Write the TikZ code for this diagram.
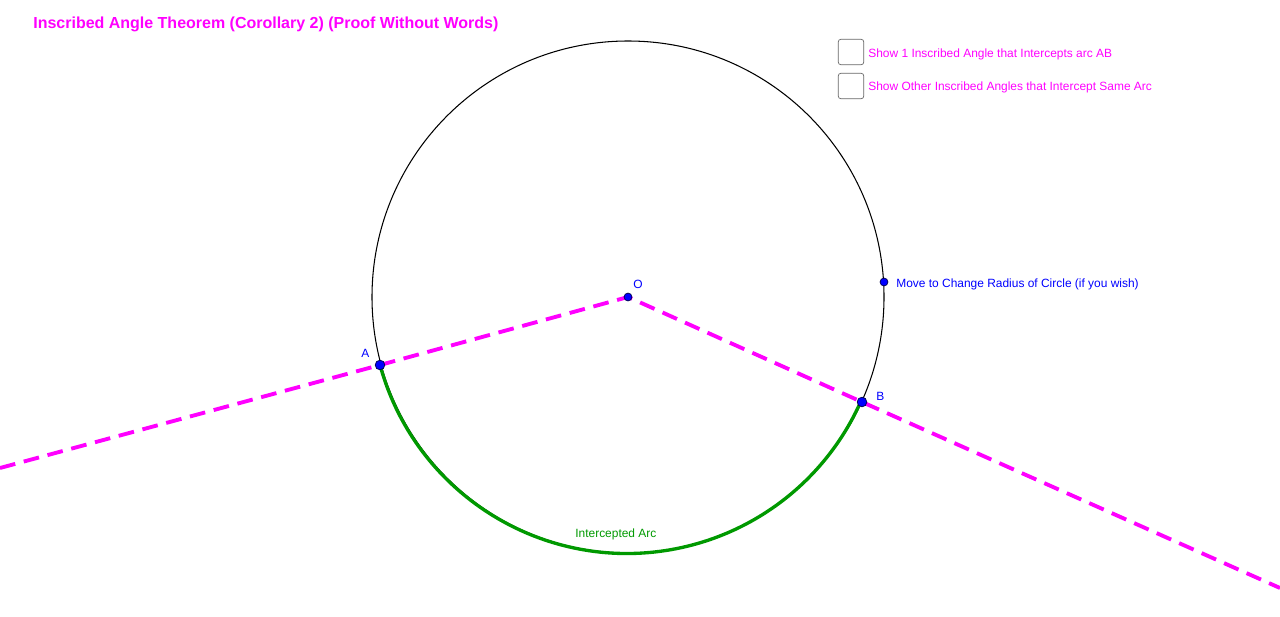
\documentclass[tikz,border=0pt]{standalone}
\usepackage{fontspec}
\setmainfont{Liberation Sans}
\definecolor{mag}{RGB}{255,0,255}
\definecolor{grn}{RGB}{0,153,0}
\definecolor{pblue}{RGB}{0,0,255}
\tikzset{pt/.style={circle,fill=pblue,draw=black!70!blue,inner sep=0pt,minimum size=#1},
lbl/.style={font=\fontsize{6.8}{8}\selectfont,inner sep=0pt,anchor=west},
dl/.style={mag,line width=2.2pt,dash pattern=on 9pt off 5pt},
cb/.style={draw=black!60,rounded corners=1.5pt,fill=white,minimum width=14.5pt,minimum height=14.5pt,inner sep=0pt}}
\begin{document}
\begin{tikzpicture}[x=0.02cm,y=-0.02cm]
\useasboundingbox (0,0) rectangle (1280,616);
\coordinate (O) at (628,297);
\coordinate (A) at (380,365);
\coordinate (B) at (862,402);
\coordinate (L) at (0,468);
\coordinate (R) at (1280,588);
\draw[black,line width=0.6pt] (O) circle[radius=256];
\draw[grn,line width=1.9pt] (A) arc[start angle=164.7,end angle=24.2,radius=256];
\draw[dl] (L) -- (A) -- (O) -- (B) -- (R);
\node[pt=4.5pt] (o) at (O) {};
\node[pt=5.5pt] (a) at (A) {};
\node[pt=5.5pt] (b) at (B) {};
\node[pt=4.5pt] (p) at (884,282) {};
\node[lbl,text=pblue] (ol) at (633,284) {O};
\node[lbl,text=pblue] (al) at (361,353) {A};
\node[lbl,text=pblue] (bl) at (876,396) {B};
\node[lbl,text=pblue] (pl) at (896,284) {Move to Change Radius of Circle (if you wish)};
\node[lbl,text=grn] (ia) at (575,534) {Intercepted Arc};
\node[lbl,text=mag,font=\bfseries\fontsize{9.1}{10}\selectfont] (t) at (33,24) {Inscribed Angle Theorem (Corollary 2) (Proof Without Words)};
\node[cb] (c1) at (851,52) {};
\node[cb] (c2) at (851,86) {};
\node[lbl,text=mag] (t1) at (868,54) {Show 1 Inscribed Angle that Intercepts arc AB};
\node[lbl,text=mag] (t2) at (868,87) {Show Other Inscribed Angles that Intercept Same Arc};
\end{tikzpicture}
\end{document}
